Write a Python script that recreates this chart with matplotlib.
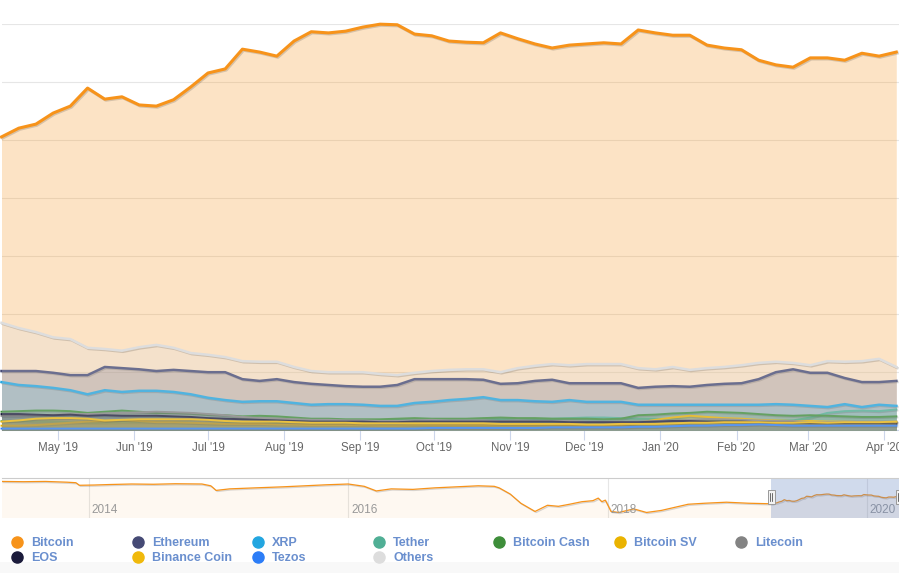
import matplotlib
matplotlib.use('Agg')
import matplotlib.pyplot as plt
import matplotlib.dates as mdates
import matplotlib.patheffects as pe
from matplotlib.patches import Rectangle
import pandas as pd

plt.rcParams['font.family'] = ['Liberation Sans', 'DejaVu Sans']

# weekly dominance (% of total market cap), Apr 2019 - Apr 2020
weeks = pd.date_range('2019-04-08', periods=53, freq='7D')
bitcoin = [50.5, 52.0, 52.7, 54.6, 55.8, 58.9, 57.0, 57.4, 56.0, 55.8,
           56.9, 59.1, 61.5, 62.2, 65.6, 65.1, 64.4, 67.0, 68.6, 68.4,
           68.7, 69.4, 69.9, 69.8, 68.2, 67.9, 67.0, 66.8, 66.7, 68.4,
           67.4, 66.5, 65.8, 66.3, 66.5, 66.7, 66.5, 68.9, 68.4, 68.0,
           68.0, 66.3, 65.8, 65.5, 63.7, 62.9, 62.5, 64.1, 64.1, 63.7,
           64.9, 64.4, 65.1]
ethereum = [10.2, 10.2, 10.2, 9.9, 9.5, 9.5, 10.9, 10.7, 10.5, 10.2,
            10.4, 10.2, 10.0, 10.0, 8.8, 8.5, 8.8, 8.3, 8.0, 7.8,
            7.6, 7.5, 7.5, 7.8, 8.8, 8.8, 8.8, 8.8, 8.7, 8.0,
            8.1, 8.5, 8.7, 8.1, 8.1, 8.1, 8.1, 7.3, 7.5, 7.6,
            7.5, 7.8, 8.0, 8.1, 8.8, 10.0, 10.5, 9.9, 9.9, 9.0,
            8.3, 8.3, 8.5]
xrp = [8.3, 7.8, 7.6, 7.3, 6.9, 6.2, 6.9, 6.6, 6.8, 6.8,
       6.6, 6.2, 5.6, 5.2, 4.9, 5.0, 5.0, 4.7, 4.4, 4.5,
       4.5, 4.4, 4.2, 4.2, 4.7, 4.9, 5.2, 5.4, 5.7, 5.2,
       5.2, 5.0, 4.9, 5.2, 4.9, 4.9, 4.9, 4.4, 4.4, 4.4,
       4.4, 4.4, 4.4, 4.4, 4.4, 4.5, 4.4, 4.2, 4.0, 4.5,
       4.0, 4.4, 4.2]
tether = [1.6, 1.6, 1.5, 1.5, 1.4, 1.3, 1.3, 1.4, 1.4, 1.4,
          1.4, 1.3, 1.2, 1.2, 1.2, 1.2, 1.3, 1.4, 1.5, 1.5,
          1.6, 1.7, 1.8, 1.8, 1.7, 1.8, 1.9, 1.9, 2.0, 1.9,
          2.0, 2.0, 2.0, 2.1, 2.2, 2.2, 2.1, 2.0, 2.0, 1.9,
          1.8, 1.7, 1.6, 1.6, 1.6, 1.7, 1.7, 2.2, 3.0, 3.3,
          3.4, 3.3, 3.6]
bitcoin_cash = [3.2, 3.3, 3.4, 3.4, 3.3, 3.0, 3.2, 3.4, 3.2, 3.0,
                3.0, 2.9, 2.7, 2.6, 2.4, 2.5, 2.4, 2.2, 2.0, 2.0,
                1.9, 1.9, 1.9, 2.0, 2.1, 2.0, 2.0, 2.0, 2.1, 2.2,
                2.1, 2.1, 2.0, 2.0, 2.0, 1.9, 2.0, 2.6, 2.7, 2.9,
                3.0, 3.2, 3.1, 3.0, 2.8, 2.6, 2.5, 2.6, 2.5, 2.4,
                2.3, 2.3, 2.4]
bitcoin_sv = [0.8, 0.8, 0.9, 1.1, 1.3, 1.5, 1.6, 1.8, 1.6, 1.4,
              1.4, 1.3, 1.2, 1.1, 1.1, 1.1, 1.0, 1.0, 0.9, 0.9,
              0.9, 0.9, 0.8, 0.8, 0.9, 0.9, 0.9, 0.9, 0.9, 0.9,
              0.9, 0.9, 0.9, 0.9, 0.9, 0.9, 0.9, 1.3, 1.8, 2.2,
              2.5, 2.3, 2.1, 2.0, 1.8, 1.7, 1.6, 1.6, 1.5, 1.5,
              1.4, 1.4, 1.4]
litecoin = [2.5, 2.5, 2.6, 2.7, 2.8, 2.8, 2.9, 3.0, 3.1, 3.2,
            3.1, 3.0, 2.8, 2.6, 2.3, 2.1, 2.0, 1.9, 1.8, 1.8,
            1.7, 1.7, 1.6, 1.6, 1.7, 1.8, 1.7, 1.7, 1.7, 1.6,
            1.7, 1.6, 1.6, 1.6, 1.5, 1.5, 1.5, 1.5, 1.6, 1.7,
            1.8, 1.9, 1.9, 1.8, 1.7, 1.6, 1.6, 1.4, 1.4, 1.5,
            1.5, 1.5, 1.5]
eos = [2.8, 2.8, 2.7, 2.6, 2.7, 2.5, 2.6, 2.5, 2.5, 2.5,
       2.4, 2.3, 2.1, 2.0, 1.9, 1.8, 1.7, 1.6, 1.5, 1.5,
       1.5, 1.5, 1.4, 1.4, 1.5, 1.5, 1.5, 1.5, 1.5, 1.5,
       1.5, 1.5, 1.5, 1.4, 1.4, 1.4, 1.4, 1.4, 1.5, 1.6,
       1.6, 1.5, 1.5, 1.5, 1.4, 1.3, 1.3, 1.2, 1.2, 1.2,
       1.2, 1.2, 1.1]
binance_coin = [1.5, 1.7, 2.0, 2.1, 2.1, 2.0, 1.7, 1.8, 1.9, 1.9,
                1.9, 1.9, 1.8, 1.6, 1.5, 1.5, 1.5, 1.4, 1.3, 1.3,
                1.3, 1.2, 1.2, 1.2, 1.2, 1.2, 1.2, 1.2, 1.2, 1.1,
                1.1, 1.1, 1.1, 1.1, 1.0, 1.0, 1.1, 1.1, 1.1, 1.2,
                1.3, 1.3, 1.4, 1.4, 1.4, 1.3, 1.3, 1.4, 1.3, 1.4,
                1.4, 1.4, 1.5]
tezos = [0.3, 0.3, 0.3, 0.3, 0.3, 0.3, 0.3, 0.3, 0.3, 0.3,
         0.3, 0.3, 0.3, 0.3, 0.3, 0.3, 0.3, 0.3, 0.3, 0.3,
         0.3, 0.3, 0.3, 0.3, 0.3, 0.4, 0.4, 0.4, 0.4, 0.4,
         0.4, 0.4, 0.5, 0.5, 0.5, 0.5, 0.5, 0.6, 0.6, 0.7,
         0.8, 0.8, 0.9, 0.9, 1.0, 0.9, 0.8, 0.8, 0.8, 0.8,
         0.8, 0.8, 0.8]
others = [18.5, 17.6, 16.9, 16.0, 15.7, 14.2, 14.0, 13.7, 14.3, 14.7,
          14.2, 13.3, 13.0, 12.6, 11.9, 11.8, 11.8, 10.9, 10.2, 10.0,
          10.0, 10.0, 9.7, 9.5, 9.9, 10.2, 10.4, 10.5, 10.5, 10.0,
          10.7, 11.1, 11.4, 11.2, 11.4, 11.4, 11.4, 10.7, 10.5, 10.9,
          10.4, 10.7, 10.9, 11.2, 11.6, 11.8, 11.6, 11.2, 11.9, 11.8,
          11.9, 12.3, 10.9]

names = ['Bitcoin', 'Ethereum', 'XRP', 'Tether', 'Bitcoin Cash', 'Bitcoin SV',
         'Litecoin', 'EOS', 'Binance Coin', 'Tezos', 'Others']
values = [bitcoin, ethereum, xrp, tether, bitcoin_cash, bitcoin_sv,
          litecoin, eos, binance_coin, tezos, others]
colors = ['#f7931a', '#454a75', '#23a6e0', '#50af95', '#3e8e3a', '#eab300',
          '#838383', '#1b1b3b', '#f0b90b', '#2c7df7', '#dddddd']

# navigator: bitcoin dominance history before the zoomed range
nav_dates = ['2013-05-01', '2013-07-01', '2013-09-01', '2013-11-01', '2013-11-25', '2013-12-05',
             '2014-01-15', '2014-03-01', '2014-05-01', '2014-07-01', '2014-09-01', '2014-11-15',
             '2014-12-10', '2014-12-25', '2015-02-01', '2015-04-15', '2015-07-01', '2015-09-01',
             '2015-11-01', '2016-01-01', '2016-02-15', '2016-03-20', '2016-05-01', '2016-07-01',
             '2016-09-01', '2016-11-01', '2017-01-01', '2017-02-15', '2017-03-01', '2017-04-01',
             '2017-05-01', '2017-06-10', '2017-07-15', '2017-08-15', '2017-09-15', '2017-10-20',
             '2017-11-20', '2017-12-05', '2017-12-15', '2017-12-25', '2018-01-10', '2018-02-01',
             '2018-03-15', '2018-04-20', '2018-06-01', '2018-08-15', '2018-10-01', '2018-12-01',
             '2019-02-01', '2019-04-01']
nav_vals = [94.5, 94.0, 94.5, 93.0, 92.0, 87.0,
            87.5, 88.5, 89.5, 89.0, 90.0, 89.5,
            86.0, 77.0, 80.0, 82.0, 84.0, 86.0,
            88.0, 89.5, 85.0, 76.0, 80.0, 79.0,
            82.0, 84.0, 86.0, 85.0, 82.0, 70.0,
            52.0, 36.0, 48.0, 46.0, 50.0, 55.0,
            57.0, 62.0, 55.0, 58.0, 36.0, 34.0,
            41.0, 34.0, 38.0, 50.0, 52.0, 54.0,
            52.0, 51.0]
nav_years = ['2014', '2016', '2018', '2020']

legend_color = '#6a8fce'
W, H = 899, 573
fig = plt.figure(figsize=(W / 100, H / 100), dpi=100)

# main chart
ax = fig.add_axes([2 / W, 1 - 430.3 / H, 897 / W, (430.3 - 23.6) / H])
shadow = [pe.SimpleLineShadow(offset=(0.8, -0.8), shadow_color='k', alpha=0.15), pe.Normal()]
for i, (name, vals, c) in enumerate(zip(names, values, colors)):
    ax.fill_between(weeks, 0, vals, color=c, alpha=0.25, lw=0, zorder=2 + 2 * i)
    lw = 2.2 if i == 0 else (1.8 if name in ('Ethereum', 'XRP', 'Others') else 1.4)
    ax.plot(weeks, vals, color=c, lw=lw, zorder=3 + 2 * i, clip_on=False,
            solid_joinstyle='round', path_effects=shadow)
ax.set_ylim(0, 70)
ax.set_yticks(range(0, 71, 10))
ax.yaxis.grid(True, color='#e6e6e6', lw=0.8, zorder=0)
ax.tick_params(axis='y', length=0, labelleft=False)
ax.set_xlim(pd.Timestamp('2019-05-01') - pd.Timedelta(days=22.8),
            pd.Timestamp('2020-04-01') + pd.Timedelta(days=6.1))
ax.set_xticks(pd.date_range('2019-05-01', '2020-04-01', freq='MS'))
ax.xaxis.set_major_formatter(mdates.DateFormatter("%b '%y"))
ax.tick_params(axis='x', length=7, width=0.8, color='#ccd6eb', labelcolor='#666666',
               labelsize=8.3, pad=1.5)
for s in ['top', 'left', 'right']:
    ax.spines[s].set_visible(False)
ax.spines['bottom'].set_color('#ccd6eb')
ax.spines['bottom'].set_linewidth(0.8)
ax.set_axisbelow(True)

# navigator
nav = fig.add_axes([2 / W, 1 - 518 / H, 897 / W, 40 / H])
nd = list(pd.to_datetime(nav_dates)) + list(weeks)
nv = nav_vals + bitcoin
nav.fill_between(nd, 23.2, nv, color='#f7931a', alpha=0.06, lw=0)
nav.plot(nd, nv, color='#f7931a', lw=0.9, path_effects=shadow)
nav.set_ylim(23.2, 101.2)
nav.set_xlim(pd.Timestamp('2013-05-01'), pd.Timestamp('2020-03-31'))
for y in nav_years:
    d = pd.Timestamp(y + '-01-01')
    nav.axvline(d, color='#e6e6e6', lw=0.8, zorder=0)
    nav.text(d + pd.Timedelta(days=8), 0.21, y, transform=nav.get_xaxis_transform(),
             color='#999999', fontsize=8.5, va='center', ha='left')
nav.set_axis_off()

# overlay: mask, handles, legend
ov = fig.add_axes([0, 0, 1, 1], zorder=10)
ov.set_xlim(0, W)
ov.set_ylim(H, 0)
ov.axis('off')
ov.plot([2, W], [478, 478], color='#cccccc', lw=0.8)
ov.add_patch(Rectangle((771, 478), 128, 40, fc='#6685c2', alpha=0.3, lw=0))
for hx in (771, 899):
    ov.add_patch(Rectangle((hx - 3.5, 490), 7, 14, fc='#f2f2f2', ec='#999999', lw=0.7))
    ov.plot([hx - 1, hx - 1], [493, 501], color='#333333', lw=0.5)
    ov.plot([hx + 1, hx + 1], [493, 501], color='#333333', lw=0.5)
ov.add_patch(Rectangle((0, 562), W, 11, fc='#f8f8f8', lw=0))

col_x = [17, 138, 258, 379, 499, 620, 741]
for i, (name, c) in enumerate(zip(names, colors)):
    row, col = divmod(i, 7)
    mx, my = col_x[col], 541.7 + 15 * row
    ov.plot(mx, my, 'o', ms=8, color=c, mec=c)
    ov.text(mx + 14, my + 4.3, name, color=legend_color, fontsize=9, weight='bold',
            va='baseline', ha='left')

fig.savefig('out.png', dpi=100)
